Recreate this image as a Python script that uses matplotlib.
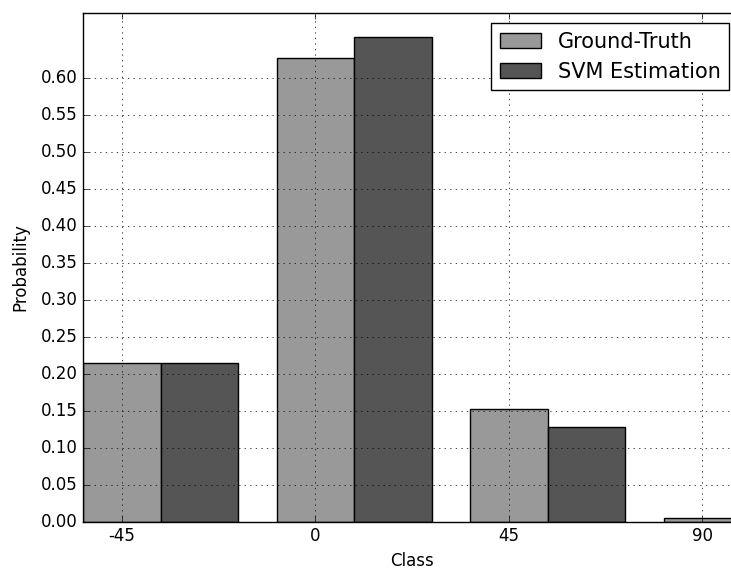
import numpy as np
import matplotlib
matplotlib.use("Agg")
import matplotlib.pyplot as plt

# class distribution: ground truth vs SVM estimate
classes = ["-45", "0", "45", "90"]
ground_truth = [0.215, 0.627, 0.152, 0.005]
svm_estimation = [0.215, 0.656, 0.128, 0.0]

plt.style.use("classic")

fig = plt.figure(figsize=(7.31, 5.73), dpi=100, facecolor="white")
ax = fig.add_axes([0.114, 0.0895, 0.8997, 0.8883])

idx = np.arange(len(classes))
width = 0.4
ax.bar(idx, ground_truth, width, color="#999999", edgecolor="black",
       label="Ground-Truth")
ax.bar(idx + width, svm_estimation, width, color="#555555", edgecolor="black",
       label="SVM Estimation")

ax.set_xticks(idx)
ax.set_xticklabels(classes)
ax.set_xlim(-width / 2, len(classes) - 1 + width / 2)
ax.set_ylim(0, 1.05 * max(max(ground_truth), max(svm_estimation)))
ax.set_yticks(np.arange(0, 0.65, 0.05))
ax.yaxis.set_major_formatter(matplotlib.ticker.FormatStrFormatter("%.2f"))

ax.set_xlabel("Class")
ax.set_ylabel("Probability", labelpad=8.5)
ax.grid(True)
ax.set_axisbelow(False)
ax.legend(loc="upper right", fontsize=15, borderaxespad=0,
          bbox_to_anchor=(0.9977, 0.9593), bbox_transform=fig.transFigure)

fig.savefig("out.png", dpi=100, facecolor="white")
